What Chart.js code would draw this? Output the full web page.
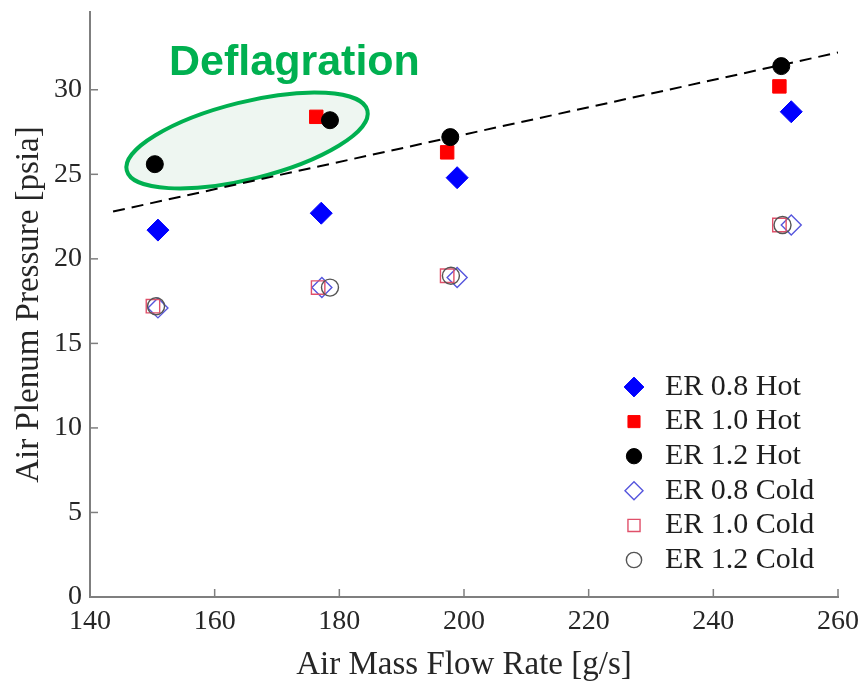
<!DOCTYPE html>
<html><head><meta charset="utf-8">
<script src="https://cdn.jsdelivr.net/npm/chart.js@4.4.1/dist/chart.umd.min.js"></script>
<style>html,body{margin:0;padding:0;background:#fff}#wrap{width:864px;height:682px;position:relative}</style>
</head><body><div id="wrap"><canvas id="c"></canvas></div>
<script>
// ---- data ----
const seriesNames = ['ER 0.8 Hot','ER 1.0 Hot','ER 1.2 Hot','ER 0.8 Cold','ER 1.0 Cold','ER 1.2 Cold'];
const er08HotX  = [150.9, 177.1, 198.9, 252.5];
const er08HotY  = [21.7, 22.7, 24.8, 28.7];
const er10HotX  = [176.3, 197.3, 250.6];
const er10HotY  = [28.4, 26.3, 30.2];
const er12HotX  = [150.4, 178.5, 197.8, 250.9];
const er12HotY  = [25.6, 28.2, 27.2, 31.4];
const er08ColdX = [150.9, 177.2, 198.9, 252.5];
const er08ColdY = [17.1, 18.3, 18.9, 22.0];
const er10ColdX = [150.1, 176.6, 197.3, 250.6];
const er10ColdY = [17.2, 18.3, 19.0, 22.0];
const er12ColdX = [150.6, 178.5, 197.9, 251.1];
const er12ColdY = [17.2, 18.3, 19.0, 22.0];
const trendX = [143.7, 260];
const trendY = [22.8, 32.2];
const xTicks = [140, 160, 180, 200, 220, 240, 260];
const yTicks = [0, 5, 10, 15, 20, 25, 30];
const xTitle = 'Air Mass Flow Rate [g/s]';
const yTitle = 'Air Plenum Pressure [psia]';
const noteText = 'Deflagration';
const notePos = [172.8, 31.6];
const ellipseCenter = [165.2, 27.0];

const pts = (xs, ys) => xs.map((v, i) => ({x: v, y: ys[i]}));

const styles = [
  {pointStyle:'rectRot', radius:11, bg:'#0000ff', bc:'#0000ff', bw:1, order:6},
  {pointStyle:'rect',    radius:9.5, bg:'#ff0000', bc:'#ff0000', bw:1, order:5},
  {pointStyle:'circle',  radius:8.5, bg:'#000000', bc:'#000000', bw:1, order:4},
  {pointStyle:'rectRot', radius:10, bg:'rgba(0,0,0,0)', bc:'#5555dd', bw:1.4, order:3},
  {pointStyle:'rect',    radius:9.5, bg:'rgba(0,0,0,0)', bc:'#e0506a', bw:1.4, order:2},
  {pointStyle:'circle',  radius:8.5, bg:'rgba(0,0,0,0)', bc:'#555555', bw:1.4, order:1}
];
const seriesData = [pts(er08HotX, er08HotY), pts(er10HotX, er10HotY), pts(er12HotX, er12HotY),
                    pts(er08ColdX, er08ColdY), pts(er10ColdX, er10ColdY), pts(er12ColdX, er12ColdY)];

const datasets = seriesNames.map((n, i) => ({
  label: n, data: seriesData[i], showLine: false,
  pointStyle: styles[i].pointStyle, pointRadius: styles[i].radius, pointHoverRadius: styles[i].radius,
  backgroundColor: styles[i].bg, borderColor: styles[i].bc, borderWidth: styles[i].bw,
  pointBackgroundColor: styles[i].bg, pointBorderColor: styles[i].bc, pointBorderWidth: styles[i].bw,
  order: styles[i].order
}));
datasets.push({
  label: 'trend', data: pts(trendX, trendY), showLine: true, pointRadius: 0,
  borderColor: '#000', borderWidth: 2, borderDash: [12, 7], fill: false, order: 10
});

const AXIS = '#7f7f7f';

const decor = {
  id: 'decor',
  beforeDatasetsDraw(chart) {
    const {ctx, scales: {x, y}} = chart;
    const cx = x.getPixelForValue(ellipseCenter[0]);
    const cy = y.getPixelForValue(ellipseCenter[1]);
    ctx.save();
    ctx.beginPath();
    ctx.ellipse(cx, cy, 124, 38.5, -14 * Math.PI / 180, 0, Math.PI * 2);
    ctx.fillStyle = '#eef6f1';
    ctx.fill();
    ctx.lineWidth = 4;
    ctx.strokeStyle = '#00b050';
    ctx.stroke();
    ctx.restore();
  },
  afterDraw(chart) {
    const {ctx, scales: {x, y}, chartArea} = chart;
    ctx.save();
    // inward tick marks
    ctx.strokeStyle = AXIS; ctx.lineWidth = 1.5;
    xTicks.forEach(v => {
      const px = x.getPixelForValue(v);
      ctx.beginPath(); ctx.moveTo(px, chartArea.bottom); ctx.lineTo(px, chartArea.bottom - 8); ctx.stroke();
    });
    yTicks.forEach(v => {
      const py = y.getPixelForValue(v);
      ctx.beginPath(); ctx.moveTo(chartArea.left, py); ctx.lineTo(chartArea.left + 8, py); ctx.stroke();
    });
    // annotation text
    ctx.fillStyle = '#00b050';
    ctx.font = 'bold 43px "Liberation Sans", Arial, sans-serif';
    ctx.textAlign = 'center'; ctx.textBaseline = 'middle';
    ctx.fillText(noteText, x.getPixelForValue(notePos[0]), y.getPixelForValue(notePos[1]));
    // legend
    const lx = chartArea.right - 204, ly0 = chartArea.bottom - 210, step = 34.6;
    ctx.font = '30px "Liberation Serif", "Times New Roman", serif';
    ctx.textAlign = 'left'; ctx.textBaseline = 'middle';
    seriesNames.forEach((n, i) => {
      const yy = ly0 + i * step;
      const s = styles[i];
      ctx.save();
      ctx.fillStyle = s.bg; ctx.strokeStyle = s.bc; ctx.lineWidth = s.bw;
      Chart.helpers.drawPoint(ctx, {pointStyle: s.pointStyle, radius: s.radius * 0.9, borderWidth: s.bw}, lx, yy);
      ctx.restore();
      ctx.fillStyle = '#1e1e1e';
      ctx.fillText(n, lx + 31, yy);
    });
    ctx.restore();
  }
};

new Chart(document.getElementById('c'), {
  type: 'scatter',
  data: {datasets},
  plugins: [decor],
  options: {
    responsive: true, maintainAspectRatio: false, animation: false,
    layout: {padding: {top: 8, right: 26, left: 0, bottom: 0}},
    plugins: {legend: {display: false}, tooltip: {enabled: false}},
    scales: {
      x: {
        type: 'linear', min: 140, max: 260,
        afterBuildTicks: s => { s.ticks = xTicks.map(v => ({value: v})); },
        afterFit: s => { s.height = 85; s.paddingLeft = 0; s.paddingRight = 0; },
        grid: {display: false, drawTicks: false},
        border: {display: true, color: AXIS, width: 2},
        ticks: {padding: 8, color: '#262626', font: {family: '"Liberation Serif", "Times New Roman", serif', size: 28}, maxRotation: 0, autoSkip: false},
        title: {display: true, text: xTitle, color: '#262626', padding: {top: 0, bottom: 0},
                font: {family: '"Liberation Serif", "Times New Roman", serif', size: 33, lineHeight: 1}}
      },
      y: {
        type: 'linear', min: 0, max: 34.6,
        afterBuildTicks: s => { s.ticks = yTicks.map(v => ({value: v})); },
        afterFit: s => { s.width = 90; s.paddingTop = 0; s.paddingBottom = 0; },
        grid: {display: false, drawTicks: false},
        border: {display: true, color: AXIS, width: 2},
        ticks: {padding: 8, color: '#262626', font: {family: '"Liberation Serif", "Times New Roman", serif', size: 28}, autoSkip: false},
        title: {display: true, text: yTitle, color: '#262626', padding: {top: 13, bottom: 0},
                font: {family: '"Liberation Serif", "Times New Roman", serif', size: 33, lineHeight: 1}}
      }
    }
  }
});
</script></body></html>
